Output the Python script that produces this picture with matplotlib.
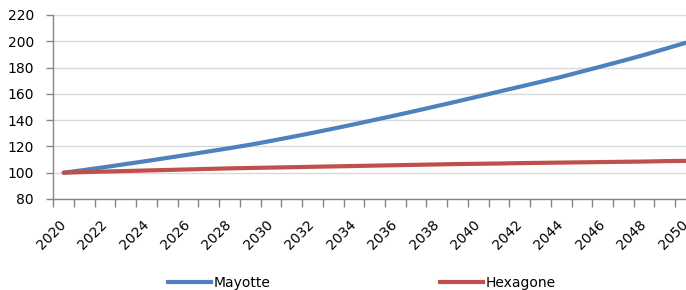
import matplotlib
matplotlib.use("Agg")
import matplotlib.pyplot as plt
from matplotlib.lines import Line2D

years = list(range(2020, 2051))
mayotte = [100.0, 102.1, 104.3, 106.6, 108.9, 111.3, 113.7, 116.2, 118.7, 121.3,
           124.2, 127.2, 130.3, 133.5, 136.8, 140.2, 143.6, 147.1, 150.7, 154.3,
           158.0, 161.7, 165.4, 169.1, 172.9, 177.0, 181.1, 185.3, 189.6, 194.2,
           198.8]
hexagone = [100.0, 100.5, 100.9, 101.3, 101.7, 102.1, 102.5, 102.9, 103.3, 103.6,
            103.9, 104.2, 104.5, 104.8, 105.1, 105.4, 105.7, 106.0, 106.3, 106.6,
            106.8, 107.0, 107.3, 107.5, 107.7, 107.9, 108.1, 108.3, 108.5, 108.8,
            109.0]
series_names = ["Mayotte", "Hexagone"]
yticks = [80, 100, 120, 140, 160, 180, 200, 220]

plt.rcParams['font.family'] = ['DejaVu Sans']
W, H = 686, 290
fig = plt.figure(figsize=(W / 100, H / 100), dpi=100)
left, right, bottom, top = 53.3, 695.9, 199, 15
ax = fig.add_axes([left / W, (H - bottom) / H, (right - left) / W, (bottom - top) / H])

x = list(range(len(years)))
ax.plot(x, mayotte, color='#4F81BD', lw=3.0, solid_capstyle='round', label=series_names[0], zorder=3)
ax.plot(x, hexagone, color='#C0504D', lw=3.0, solid_capstyle='round', label=series_names[1], zorder=3)

ax.set_xlim(-0.5, len(years) - 0.5)
ax.set_ylim(80, 220)
ax.set_yticks(yticks)
ax.set_yticklabels([str(v) for v in yticks], fontsize=10)
ax.grid(axis='y', color='#d9d9d9', lw=1.0, zorder=0)
ax.set_axisbelow(True)

major = x[::2]
ax.set_xticks(major)
ax.set_xticklabels([str(years[i]) for i in major], rotation=45, ha='right', va='center',
                   rotation_mode='anchor', fontsize=10)
ax.set_xticks([i - 0.5 for i in range(len(years) + 1)], minor=True)
ax.tick_params(axis='x', which='major', length=0, pad=17)
ax.tick_params(axis='x', which='minor', length=6, color='#868686', width=1)
ax.tick_params(axis='y', length=5, color='#868686', width=1, pad=9)

for s in ['top', 'right']:
    ax.spines[s].set_visible(False)
for s in ['left', 'bottom']:
    ax.spines[s].set_color('#868686')
    ax.spines[s].set_linewidth(1)

handles = [Line2D([], [], color='#4F81BD', lw=3.0), Line2D([], [], color='#C0504D', lw=3.0)]
fig.legend(handles, series_names, loc='center', bbox_to_anchor=(362 / W, 7 / H), ncol=2,
           frameon=False, fontsize=10, handlelength=3.1, handletextpad=0.2,
           columnspacing=12.2, borderaxespad=0, borderpad=0)

fig.savefig('out.png', dpi=100)
